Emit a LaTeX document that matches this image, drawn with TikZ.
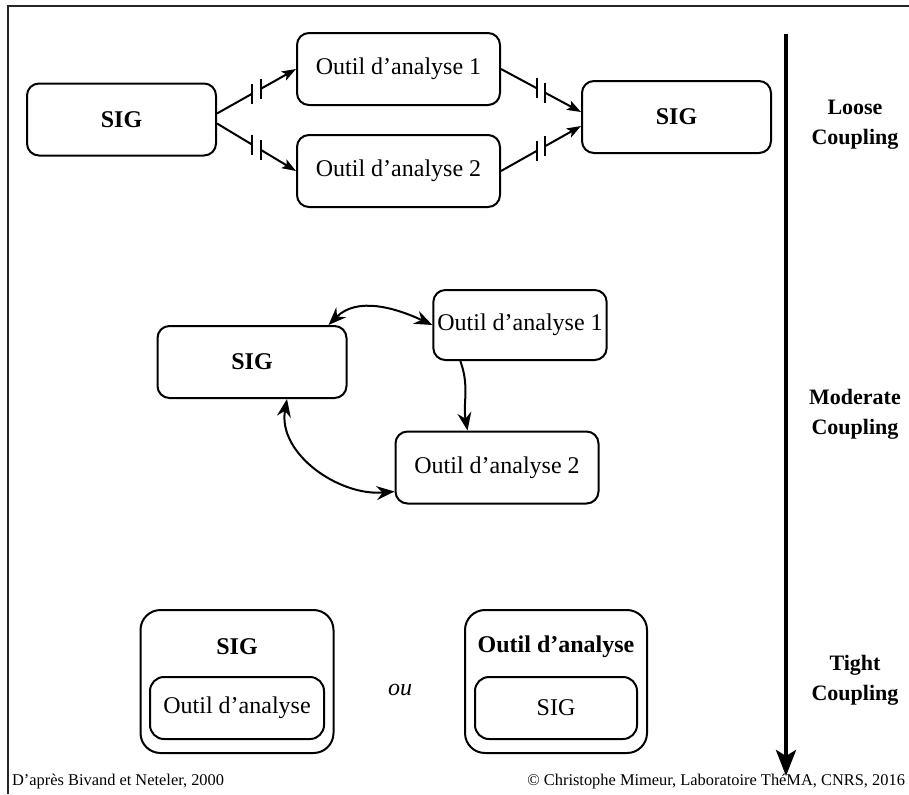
\documentclass[tikz,border=0pt]{standalone}
\usepackage{fontspec}
\setmainfont{Liberation Serif}
\usetikzlibrary{arrows.meta, positioning, calc}

% break in a connector: two short bars across the line
\newcommand{\gapline}[2]{%
  \path (#1) -- coordinate[pos=0.445] (gA) coordinate[pos=0.555] (gB) (#2);
  \draw[conn] (#1) -- (gA);
  \draw[conn] ([yshift=5pt]gA) -- ([yshift=-5pt]gA);
  \draw[conn] ([yshift=5pt]gB) -- ([yshift=-5pt]gB);
  \draw[conn, -{Stealth[length=7pt,width=5pt,inset=1.5pt]}] (gB) -- (#2);
}

\begin{document}
\begin{tikzpicture}[x=0.5pt, y=0.5pt]
\tikzstyle{sigbox}=[draw, line width=1pt, rounded corners=6pt, minimum width=94.5pt, minimum height=36pt, font=\fontsize{12}{14}\selectfont\bfseries]
\tikzstyle{toolbox}=[draw, line width=1pt, rounded corners=6pt, minimum width=101.5pt, minimum height=36pt, font=\fontsize{12}{14}\selectfont]
\tikzstyle{outerbox}=[draw, line width=1pt, rounded corners=10pt, minimum height=71.5pt]
\tikzstyle{innerbox}=[draw, line width=1pt, rounded corners=7pt, minimum height=31pt, font=\fontsize{12}{14}\selectfont]
\tikzstyle{couplabel}=[align=center, font=\fontsize{11}{15}\selectfont\bfseries]
\tikzstyle{footer}=[font=\fontsize{8.2}{10}\selectfont]
\tikzstyle{conn}=[line width=1pt]
\tikzstyle{dbl}=[line width=1pt, {Stealth[length=9pt,width=7pt,inset=3pt]}-{Stealth[length=9pt,width=7pt,inset=3pt]}]
\tikzstyle{single}=[line width=1pt, -{Stealth[length=9pt,width=7pt,inset=3pt]}]

\useasboundingbox (0,0) rectangle (909,-794);
\draw[line width=1pt, black!85] (909,-6) -- (8,-6) -- (8,-794);

% loose coupling
\node[sigbox] (sigA) at (121.5,-119.5) {SIG};
\node[toolbox] (outA1) at (398.5,-69) {Outil d’analyse 1};
\node[toolbox, below=14pt of outA1] (outA2) {Outil d’analyse 2};
\node[sigbox] (sigB) at (676.5,-117) {SIG};

\gapline{$(sigA.east)+(0,6)$}{outA1.west}
\gapline{$(sigA.east)+(0,-4)$}{outA2.west}
\gapline{outA1.east}{$(sigB.west)+(0,5)$}
\gapline{outA2.east}{$(sigB.west)+(0,-9)$}

% moderate coupling
\node[sigbox] (sigM) at (252,-362) {SIG};
\node[toolbox, minimum width=82pt, minimum height=35pt, inner xsep=2pt] (outM1) at (520,-325) {Outil d’analyse 1};
\node[toolbox] (outM2) at (497,-467.5) {Outil d’analyse 2};

\draw[dbl] ($(sigM.north east)+(-19,0)$) to[out=45, in=155] (outM1.west);
\draw[single] ($(outM1.south west)+(28,0)$) to[out=-70, in=100] ($(outM2.north west)+(73,0)$);
\draw[dbl] ($(sigM.south)+(35,0)$) to[out=-100, in=185] ($(outM2.west)+(0,-24)$);

% tight coupling
\node[outerbox, minimum width=96.5pt] (tightL) at (237,-681.5) {};
\node[font=\fontsize{12}{14}\selectfont\bfseries] (tightLlab) at (237,-647) {SIG};
\node[innerbox, minimum width=87pt] (tightLin) at (237,-708) {Outil d’analyse};
\node[font=\fontsize{12}{14}\selectfont\itshape] (ou) at (400,-690) {ou};
\node[outerbox, minimum width=91pt] (tightR) at (556,-681.5) {};
\node[font=\fontsize{12}{14}\selectfont\bfseries] (tightRlab) at (556,-647) {Outil d’analyse};
\node[innerbox, minimum width=81pt] (tightRin) at (556,-708) {SIG};

% axis
\coordinate (axtop) at (786,-34);
\coordinate (axbot) at (786,-776);
\draw[line width=2pt, -{Stealth[length=13pt,width=10pt,inset=3pt]}] (axtop) -- (axbot);
\node[couplabel] (loose) at (855,-125) {Loose\\Coupling};
\node[couplabel] (moderate) at (855,-414) {Moderate\\Coupling};
\node[couplabel] (tight) at (855,-680) {Tight\\Coupling};

\node[footer, anchor=west] (source) at (5,-782) {D’après Bivand et Neteler, 2000};
\node[footer, anchor=east] (credit) at (912,-782) {© Christophe Mimeur, Laboratoire ThéMA, CNRS, 2016};
\end{tikzpicture}
\end{document}
